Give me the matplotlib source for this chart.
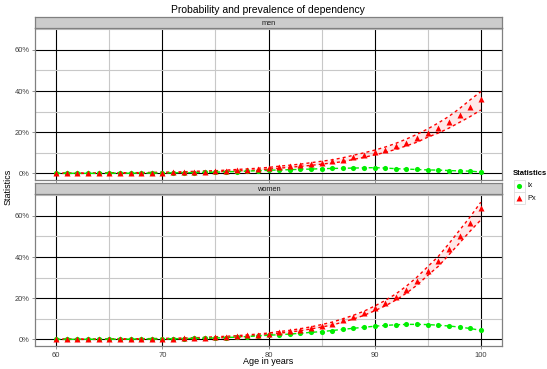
import matplotlib
matplotlib.use("Agg")
import matplotlib.pyplot as plt
from matplotlib.patches import Rectangle
from matplotlib.lines import Line2D
import numpy as np

plt.rcParams['font.family'] = ['Liberation Sans', 'DejaVu Sans']

ages = list(range(60, 101))

px_m = [0.1,0.1,0.1,0.1,0.15,0.15,0.2,0.2,0.25,0.3,0.4,0.5,0.6,0.7,0.9,1.0,1.3,1.5,1.8,2.1,2.5,3.0,3.5,3.9,4.5,5.2,5.8,6.6,7.8,8.9,10.2,11.5,13.1,15.0,17.0,19.5,22.1,25.0,28.4,32.1,36.0]
px_m_hi = [0.2,0.2,0.2,0.2,0.25,0.3,0.35,0.35,0.4,0.5,0.6,0.7,0.8,1.0,1.2,1.3,1.6,1.9,2.2,2.5,2.9,3.5,4.0,4.5,5.2,5.9,6.6,7.6,8.8,10.0,11.3,12.8,14.6,16.7,19.0,21.6,24.5,27.7,31.5,35.7,39.7]
px_m_lo = [0.0,0.0,0.0,0.0,0.05,0.05,0.1,0.1,0.1,0.15,0.2,0.3,0.4,0.5,0.6,0.7,1.0,1.2,1.4,1.7,2.1,2.5,3.0,3.4,3.9,4.5,5.1,5.7,6.8,7.8,9.0,10.2,11.7,13.4,15.2,17.6,19.6,22.0,24.8,27.6,30.8]
lx_m = [0.05,0.05,0.05,0.05,0.05,0.1,0.1,0.1,0.15,0.2,0.25,0.3,0.35,0.4,0.5,0.6,0.8,0.9,1.1,1.3,1.5,1.7,1.8,2.0,2.1,2.3,2.4,2.5,2.6,2.7,2.8,2.6,2.3,2.1,1.9,1.7,1.6,1.4,1.2,1.1,0.7]

px_w = [0.1,0.1,0.1,0.1,0.1,0.15,0.15,0.2,0.2,0.25,0.3,0.4,0.5,0.6,0.8,1.0,1.2,1.5,1.9,2.3,2.7,3.4,4.0,4.7,5.6,6.6,7.7,9.2,10.8,12.7,15.1,17.6,20.6,24.2,28.4,33.2,38.0,43.9,50.0,56.4,63.6]
px_w_hi = [0.2,0.2,0.2,0.2,0.2,0.25,0.3,0.3,0.35,0.4,0.5,0.6,0.7,0.8,1.0,1.3,1.5,1.8,2.2,2.6,3.1,3.8,4.4,5.2,6.1,7.2,8.4,10.0,11.7,13.7,16.2,18.9,22.1,25.9,30.3,35.3,40.3,46.5,53.0,59.5,66.6]
px_w_lo = [0.0,0.0,0.0,0.0,0.0,0.05,0.05,0.1,0.1,0.1,0.15,0.2,0.3,0.4,0.6,0.7,0.9,1.2,1.6,2.0,2.3,3.0,3.6,4.2,5.1,6.0,7.0,8.4,9.9,11.7,13.9,16.3,19.1,22.5,26.4,31.1,35.5,41.1,46.8,52.6,58.0]
lx_w = [0.05,0.05,0.05,0.1,0.1,0.1,0.15,0.15,0.2,0.25,0.3,0.35,0.4,0.5,0.6,0.7,0.9,1.1,1.4,1.7,2.0,2.3,2.6,3.0,3.4,3.8,4.3,4.9,5.4,5.9,6.4,6.8,7.1,7.3,7.3,7.2,6.9,6.5,6.0,5.3,4.4]

panels = ["men", "women"]
y_ticks = [0, 20, 40, 60]
y_tick_labels = ["0%", "20%", "40%", "60%"]
x_ticks = [60, 70, 80, 90, 100]
legend_labels = ["lx", "Px"]

W, H = 547, 369
fig = plt.figure(figsize=(W/100, H/100), dpi=100)

def frac(x0, y0, x1, y1):
    return [x0/W, 1 - y1/H, (x1-x0)/W, (y1-y0)/H]

GREEN = "#00EE00"
RED = "#FF0000"
panel_boxes = [(35, 28, 502, 180), (35, 194, 502, 346)]
strip_boxes = [(35, 17, 502, 28), (35, 183, 502, 194)]
data = [(px_m, px_m_lo, px_m_hi, lx_m), (px_w, px_w_lo, px_w_hi, lx_w)]

for i, name in enumerate(panels):
    ax = fig.add_axes(frac(*panel_boxes[i]))
    px, lo, hi, lx = data[i]
    ax.fill_between(ages, lo, hi, color=RED, alpha=0.09, lw=0)
    ax.plot(ages, lo, color=RED, ls=(0, (2.2, 2.2)), lw=1.0)
    ax.plot(ages, hi, color=RED, ls=(0, (2.2, 2.2)), lw=1.0)
    ax.plot(ages, lx, color=GREEN, ls=(0, (3, 2)), lw=1.0, marker='o', ms=3.7, mec='none')
    ax.plot(ages, px, color=RED, ls='none', marker='^', ms=4.6, mec='none')
    ax.set_xlim(58, 102)
    ax.set_ylim(-3.2, 70.6)
    ax.set_yticks(y_ticks)
    ax.set_yticklabels(y_tick_labels)
    ax.set_yticks([10, 30, 50, 70], minor=True)
    ax.set_xticks(x_ticks)
    ax.set_xticks([65, 75, 85, 95], minor=True)
    ax.grid(True, which='major', color='black', lw=0.8)
    ax.grid(True, which='minor', color='#c8c8c8', lw=0.8)
    ax.set_axisbelow(True)
    for sp in ax.spines.values():
        sp.set_color('#808080')
        sp.set_linewidth(0.9)
    ax.tick_params(which='major', length=2.5, width=0.6, color='#808080', labelsize=5.4, labelcolor='#3d3d3d', pad=1.5)
    ax.tick_params(which='minor', length=0)
    if i == 0:
        ax.tick_params(axis='x', labelbottom=False)
    sax = fig.add_axes(frac(*strip_boxes[i]))
    sax.set_xticks([]); sax.set_yticks([])
    sax.set_facecolor('#cccccc')
    for sp in sax.spines.values():
        sp.set_color('#808080')
        sp.set_linewidth(0.9)
    sax.text(0.5, 0.45, name, ha='center', va='center', fontsize=5.3, color='#1a1a1a', transform=sax.transAxes)

fig.text(268/W, 1 - 10/H, "Probability and prevalence of dependency", ha='center', va='center', fontsize=7.5)
fig.text(268/W, 1 - 362/H, "Age in years", ha='center', va='center', fontsize=6.5)
fig.text(8/W, 1 - 187/H, "Statistics", ha='center', va='center', rotation=90, fontsize=6.5)

# legend
fig.text(513/W, 1 - 173.5/H, "Statistics", ha='left', va='center', fontsize=5.5, fontweight='bold')
for j, (lab, col, mk, ms) in enumerate(zip(legend_labels, [GREEN, RED], ['o', '^'], [3.7, 4.6])):
    y0 = 180 + j * 12.2
    fig.patches.append(Rectangle((513.5/W, 1 - (y0 + 11.7)/H), 11.7/W, 11.7/H, transform=fig.transFigure,
                                 facecolor='white', edgecolor='#dddddd', lw=0.6))
    fig.lines.append(Line2D([519.4/W], [1 - (y0 + 5.85)/H], transform=fig.transFigure, marker=mk, ms=ms,
                            color=col, mec='none', ls='none'))
    fig.text(527.5/W, 1 - (y0 + 5.85)/H, lab, ha='left', va='center', fontsize=5.3, color='#1a1a1a')

fig.savefig("out.png", dpi=100)
